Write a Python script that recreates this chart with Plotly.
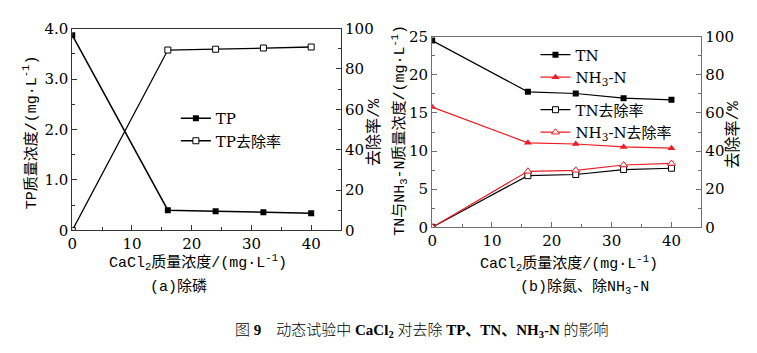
import plotly.graph_objects as go

# ---- data ----
cacl2 = [0, 16, 24, 32, 40]
tp_conc = [3.87, 0.40, 0.38, 0.36, 0.34]
tp_rate = [0, 89.4, 89.8, 90.4, 90.9]
tn_conc = [24.5, 17.78, 17.56, 16.94, 16.73]
nh3_conc = [15.78, 11.09, 10.93, 10.55, 10.38]
tn_rate = [0, 27.1, 27.7, 30.3, 31.0]
nh3_rate = [0, 29.4, 29.9, 32.7, 33.5]

left_y_vals = [0, 1, 2, 3, 4]
left_y_text = ["0", "1.0", "2.0", "3.0", "4.0"]

FONT = "Liberation Mono, Noto Sans CJK SC"
TICK_FONT = "DejaVu Serif, Noto Sans CJK SC"
CAP_FONT = "Liberation Serif, Noto Sans CJK SC"
RED = "#ee1c25"
W, H = 757, 353

def px_x(p):
    return p / W

def px_y(p):
    return 1 - p / H

fig = go.Figure()

# left panel
fig.add_trace(go.Scatter(x=cacl2, y=tp_conc, name="TP", mode="lines+markers",
                         line=dict(color="black", width=1.5),
                         marker=dict(symbol="square", size=6, color="black"),
                         xaxis="x", yaxis="y", legend="legend"))
fig.add_trace(go.Scatter(x=cacl2, y=tp_rate, name="TP去除率", mode="lines+markers",
                         line=dict(color="black", width=1.3),
                         marker=dict(symbol="square", size=6, color="white",
                                     line=dict(color="black", width=1)),
                         xaxis="x", yaxis="y2", legend="legend"))

# right panel
fig.add_trace(go.Scatter(x=cacl2, y=tn_conc, name="TN", mode="lines+markers",
                         line=dict(color="black", width=1.2),
                         marker=dict(symbol="square", size=6, color="black"),
                         xaxis="x3", yaxis="y3", legend="legend2"))
fig.add_trace(go.Scatter(x=cacl2, y=nh3_conc, name="NH<sub>3</sub>-N", mode="lines+markers",
                         line=dict(color=RED, width=1.2),
                         marker=dict(symbol="triangle-up", size=7, color=RED),
                         xaxis="x3", yaxis="y3", legend="legend2"))
fig.add_trace(go.Scatter(x=cacl2, y=tn_rate, name="TN去除率", mode="lines+markers",
                         line=dict(color="black", width=1.2),
                         marker=dict(symbol="square", size=6, color="white",
                                     line=dict(color="black", width=1)),
                         xaxis="x3", yaxis="y4", legend="legend3"))
fig.add_trace(go.Scatter(x=cacl2, y=nh3_rate, name="NH<sub>3</sub>-N去除率", mode="lines+markers",
                         line=dict(color=RED, width=1.2),
                         marker=dict(symbol="triangle-up", size=7, color="white",
                                     line=dict(color=RED, width=1)),
                         xaxis="x3", yaxis="y4", legend="legend3"))

tickfont = dict(family=TICK_FONT, size=15, color="black")

def xax(domain, anchor, lc):
    return dict(domain=domain, anchor=anchor, range=[0, 45], dtick=10, tick0=0,
                ticks="inside", ticklen=5, tickcolor=lc, showline=True, linecolor=lc,
                linewidth=1, mirror=True, showgrid=False, zeroline=False,
                tickfont=tickfont,
                minor=dict(dtick=5, ticks="inside", ticklen=3, tickcolor=lc))

def yax(domain, anchor, rng, dtick, minor, lc, side="left", overlay=None, **kw):
    d = dict(domain=domain, anchor=anchor, range=rng, dtick=dtick, tick0=0,
             ticks="inside", ticklen=5, tickcolor=lc, showline=True, linecolor=lc,
             linewidth=1, showgrid=False, zeroline=False, side=side,
             tickfont=tickfont,
             minor=dict(dtick=minor, ticks="inside", ticklen=3, tickcolor=lc))
    if overlay:
        d["overlaying"] = overlay
    d.update(kw)
    return d

L_LC = "#333333"
R_LC = "#707070"
ldx = [px_x(67.7), px_x(338.3)]
ldy = [px_y(233.3), px_y(20.7)]
rdx = [px_x(430), px_x(701)]
rdy = [px_y(230), px_y(29.3)]

legfont = dict(family=TICK_FONT, size=15, color="black")

fig.update_layout(
    width=W, height=H, margin=dict(l=0, r=0, t=0, b=0),
    paper_bgcolor="white", plot_bgcolor="white",
    font=dict(family=FONT, size=15, color="black"),
    xaxis=xax(ldx, "y", L_LC),
    yaxis=yax(ldy, "x", [0, 4], 1, 0.5, L_LC, tickmode="array",
              tickvals=left_y_vals, ticktext=left_y_text),
    yaxis2=yax(ldy, "x", [0, 100], 20, 10, L_LC, side="right", overlay="y"),
    xaxis3=xax(rdx, "y3", R_LC),
    yaxis3=yax(rdy, "x3", [0, 25], 5, 2.5, R_LC),
    yaxis4=yax(rdy, "x3", [0, 100], 20, 10, R_LC, side="right", overlay="y3"),
    legend=dict(x=px_x(172), y=px_y(98), xanchor="left", yanchor="top",
                bgcolor="rgba(0,0,0,0)", font=legfont,
                tracegroupgap=0, itemwidth=30),
    legend2=dict(x=px_x(534), y=px_y(31), xanchor="left", yanchor="top",
                 bgcolor="rgba(0,0,0,0)", font=legfont,
                 tracegroupgap=0, itemwidth=30),
    legend3=dict(x=px_x(534), y=px_y(89), xanchor="left", yanchor="top",
                 bgcolor="rgba(0,0,0,0)", font=legfont,
                 tracegroupgap=0, itemwidth=30),
    showlegend=True,
)

def ann(text, x, y, size=15, angle=0, xanchor="center", family=FONT, weight=None):
    f = dict(family=family, size=size, color="black")
    if weight:
        f["weight"] = weight
    fig.add_annotation(text=text, x=px_x(x), y=px_y(y), xref="paper", yref="paper",
                       showarrow=False, textangle=angle, xanchor=xanchor, yanchor="middle",
                       font=f)

ann("TP质量浓度/(mg·L<sup>-1</sup>)", 26, 130, size=15, angle=-90)
ann("去除率/%", 372, 130, size=16, angle=-90)
ann("TN与NH<sub>3</sub>-N质量浓度/(mg·L<sup>-1</sup>)", 397, 128, size=15, angle=-90)
ann("去除率/%", 733, 132, size=16, angle=-90)
ann("CaCl<sub>2</sub>质量浓度/(mg·L<sup>-1</sup>)", 194, 267, size=15)
ann("CaCl<sub>2</sub>质量浓度/(mg·L<sup>-1</sup>)", 568, 268, size=15)
ann("(a)除磷", 175, 293, size=15)
ann("(b)除氮、除NH<sub>3</sub>-N", 583, 293, size=15)
ann("图 <b>9</b>    动态试验中 <b>CaCl<sub>2</sub></b> 对去除 <b>TP、TN、NH<sub>3</sub>-N</b> 的影响",
    420, 339, size=15, family=CAP_FONT, weight=300)

fig.write_html("out.html")
